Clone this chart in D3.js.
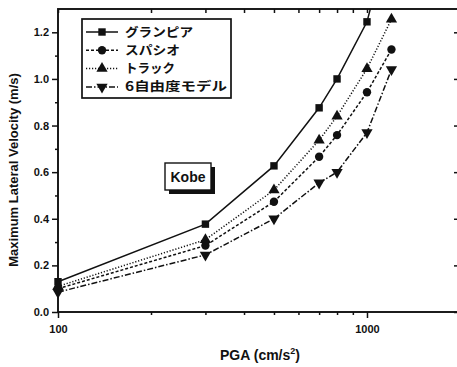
<!DOCTYPE html>
<html><head><meta charset="utf-8">
<script src="https://cdn.jsdelivr.net/npm/d3@7"></script>
<style>body{margin:0;background:#fff}svg{display:block}</style>
</head><body><svg id="c" width="457" height="367"></svg>
<script>
const pga = [100, 300, 500, 700, 800, 1000, 1200];
const granpia = [0.13, 0.377, 0.627, 0.876, 1.0, 1.245, 1.65];
const spacio  = [0.10, 0.285, 0.473, 0.666, 0.759, 0.943, 1.126];
const truck   = [0.11, 0.31, 0.523, 0.737, 0.84, 1.044, 1.256];
const sixdof  = [0.085, 0.245, 0.40, 0.554, 0.60, 0.77, 1.04];
const seriesNames = ["グランピア", "スパシオ", "トラック", "6自由度モデル"];
const yTicks = [0.0, 0.2, 0.4, 0.6, 0.8, 1.0, 1.2];
const xTicks = [100, 1000];

const svg = d3.select("#c");
const L = 58, R = 460, T = 9, B = 312;
const x = d3.scaleLog().domain([100, 2000]).range([L, R]);
const y = d3.scaleLinear().domain([0, 1.3]).range([B, T]);
const font = "'Liberation Sans', Arial, sans-serif";

const series = [
  {name: seriesNames[0], vals: granpia, dash: null, sym: d3.symbolSquare, size: 55, tl: 68},
  {name: seriesNames[1], vals: spacio, dash: "3,2", sym: d3.symbolCircle, size: 55, tl: 55},
  {name: seriesNames[2], vals: truck, dash: "1.2,1.8", sym: d3.symbolTriangle, size: 55, tl: 50},
  {name: seriesNames[3], vals: sixdof, dash: "6,2,1.5,2", sym: "down", size: 55, tl: 102}
];

svg.append("defs").append("clipPath").attr("id","clip")
  .append("rect").attr("x", L-8).attr("y", T).attr("width", R-L+8).attr("height", B-T);

const minorX = [200,300,400,500,600,700,800,900,2000];
const minorY = d3.range(0.1, 1.3, 0.2);

// axes
const gx = svg.append("g").attr("transform", `translate(0,${B})`)
  .call(d3.axisBottom(x).tickValues(xTicks).tickFormat(d3.format("d")).tickSize(6).tickPadding(7));
const gxm = svg.append("g").attr("transform", `translate(0,${B})`)
  .call(d3.axisBottom(x).tickValues(minorX).tickFormat("").tickSize(3));
const gxt = svg.append("g").attr("transform", `translate(0,${T})`)
  .call(d3.axisBottom(x).tickValues(minorX.concat(xTicks)).tickFormat("").tickSize(4));
const gy = svg.append("g").attr("transform", `translate(${L},0)`)
  .call(d3.axisLeft(y).tickValues(yTicks).tickFormat(d3.format(".1f")).tickSize(6).tickPadding(3));
const gym = svg.append("g").attr("transform", `translate(${L},0)`)
  .call(d3.axisLeft(y).tickValues(minorY).tickFormat("").tickSize(3));
const gyr = svg.append("g").attr("transform", `translate(${R},0)`)
  .call(d3.axisRight(y).tickValues(yTicks).tickFormat("").tickSize(-6));
const gyrm = svg.append("g").attr("transform", `translate(${R},0)`)
  .call(d3.axisRight(y).tickValues(minorY).tickFormat("").tickSize(-3));
[gx,gxm,gxt,gy,gym,gyr,gyrm].forEach(g => {
  g.select(".domain").remove();
  g.selectAll("line").attr("stroke","#111").attr("stroke-width",1.5);
  g.selectAll("text").attr("fill","#111").style("font-family",font).style("font-weight","bold").style("font-size","11px");
});
svg.append("rect").attr("x",L).attr("y",T).attr("width",R-L).attr("height",B-T)
  .attr("fill","none").attr("stroke","#111").attr("stroke-width",1.9);

// titles
svg.append("text").attr("x",260).attr("y",360).attr("text-anchor","middle")
  .style("font-family",font).style("font-weight","bold").style("font-size","14px").attr("fill","#111")
  .html('PGA (cm/s<tspan dy="-6" font-size="9px">2</tspan><tspan dy="6">)</tspan>');
svg.append("text").attr("transform","translate(18,170) rotate(-90)").attr("text-anchor","middle")
  .style("font-family",font).style("font-weight","bold").style("font-size","13px").attr("fill","#111")
  .text("Maximum Lateral Velocity (m/s)");

function sym(s, size) {
  if (s === "down") return d3.symbol().type(d3.symbolTriangle).size(size)();
  return d3.symbol().type(s).size(size)();
}

// series
const plot = svg.append("g").attr("clip-path","url(#clip)");
const line = d3.line().x(d => x(d[0])).y(d => y(d[1]));
series.forEach(s => {
  const pts = pga.map((p,i) => [p, s.vals[i]]);
  plot.append("path").attr("d", line(pts)).attr("fill","none").attr("stroke","#111")
    .attr("stroke-width",1.5).attr("stroke-dasharray", s.dash);
  plot.selectAll(null).data(pts).enter().append("path")
    .attr("d", sym(s.sym, s.size))
    .attr("transform", d => `translate(${x(d[0])},${y(d[1])})` + (s.sym === "down" ? " rotate(180)" : ""))
    .attr("fill","#111");
});

// legend
const lg = svg.append("g");
lg.append("rect").attr("x",82).attr("y",19).attr("width",149).attr("height",79)
  .attr("fill","#fff").attr("stroke","#111").attr("stroke-width",1.7);
series.forEach((s,i) => {
  const cy = 32 + i*18.3;
  lg.append("line").attr("x1",86).attr("x2",118).attr("y1",cy).attr("y2",cy)
    .attr("stroke","#111").attr("stroke-width",1.5).attr("stroke-dasharray", s.dash);
  lg.append("path").attr("d", sym(s.sym, s.size))
    .attr("transform", `translate(102,${cy})` + (s.sym === "down" ? " rotate(180)" : "")).attr("fill","#111");
  lg.append("text").attr("x",125).attr("y",cy).attr("dy","0.36em")
    .attr("textLength", s.tl).attr("lengthAdjust","spacingAndGlyphs")
    .style("font-family","'Noto Sans CJK JP', sans-serif").style("font-weight","bold").style("font-size","12.5px")
    .attr("fill","#111").text(s.name);
});

// Kobe label
svg.append("rect").attr("x",169).attr("y",167).attr("width",46).attr("height",27).attr("fill","#111");
svg.append("rect").attr("x",165).attr("y",163).attr("width",46).attr("height",27)
  .attr("fill","#fff").attr("stroke","#111").attr("stroke-width",1.4);
svg.append("text").attr("x",188).attr("y",177).attr("dy","0.36em").attr("text-anchor","middle")
  .style("font-family",font).style("font-weight","bold").style("font-size","14px").attr("fill","#111").text("Kobe");
</script></body></html>
